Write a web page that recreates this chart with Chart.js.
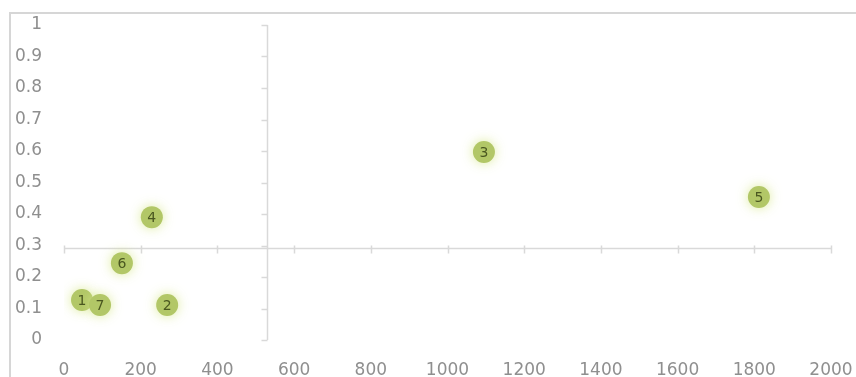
<!DOCTYPE html>
<html>
<head>
<meta charset="utf-8">
<script src="https://cdn.jsdelivr.net/npm/chart.js@4/dist/chart.umd.min.js"></script>
<style>
  html, body { margin: 0; padding: 0; background: #fff; }
  #wrap { width: 856px; height: 377px; }
</style>
</head>
<body>
<div id="wrap"><canvas id="chart"></canvas></div>
<script>
// point labels and values
const pointLabels = ['1', '2', '3', '4', '5', '6', '7'];
const xValues = [47, 269, 1095, 229, 1812, 151, 94];
const yValues = [0.127, 0.111, 0.597, 0.39, 0.454, 0.244, 0.111];
const xTicks = [0, 200, 400, 600, 800, 1000, 1200, 1400, 1600, 1800, 2000];
const yTicks = [0, 0.1, 0.2, 0.3, 0.4, 0.5, 0.6, 0.7, 0.8, 0.9, 1];

// the quadrant axes cross at the averages
const mean = arr => arr.reduce((a, b) => a + b, 0) / arr.length;
const xCross = mean(xValues);
const yCross = mean(yValues);

const FONT = 'DejaVu Sans';
const AXIS_GREY = '#d9d9d9';

const quadrantPlugin = {
  id: 'quadrant',
  beforeDraw(chart) {
    const ctx = chart.ctx;
    ctx.save();
    ctx.strokeStyle = '#d6d6d6';
    ctx.lineWidth = 2;
    ctx.beginPath();
    ctx.moveTo(10, chart.height);
    ctx.lineTo(10, 13);
    ctx.lineTo(chart.width, 13);
    ctx.stroke();
    ctx.restore();
  },
  beforeDatasetsDraw(chart) {
    const { ctx, scales: { x, y } } = chart;
    const py = Math.round(y.getPixelForValue(yCross)) + 0.5;
    const px = Math.round(x.getPixelForValue(xCross)) + 0.5;
    ctx.save();
    ctx.strokeStyle = AXIS_GREY;
    ctx.lineWidth = 1.5;
    ctx.beginPath();
    // horizontal line with crossing tick marks
    ctx.moveTo(x.getPixelForValue(xTicks[0]), py);
    ctx.lineTo(x.getPixelForValue(xTicks[xTicks.length - 1]), py);
    xTicks.forEach(v => {
      const tx = Math.round(x.getPixelForValue(v)) + 0.5;
      ctx.moveTo(tx, py - 3);
      ctx.lineTo(tx, py + 5);
    });
    // vertical line with outside tick marks
    ctx.moveTo(px, y.getPixelForValue(yTicks[0]));
    ctx.lineTo(px, y.getPixelForValue(yTicks[yTicks.length - 1]));
    yTicks.forEach(v => {
      const ty = Math.round(y.getPixelForValue(v)) + 0.5;
      ctx.moveTo(px - 6, ty);
      ctx.lineTo(px, ty);
    });
    ctx.stroke();
    ctx.restore();
  },
  beforeDatasetDraw(chart) {
    const ctx = chart.ctx;
    ctx.save();
    ctx.shadowColor = 'rgba(215, 232, 140, 0.85)';
    ctx.shadowBlur = 12;
  },
  afterDatasetDraw(chart) {
    chart.ctx.restore();
  },
  afterDatasetsDraw(chart) {
    const ctx = chart.ctx;
    const meta = chart.getDatasetMeta(0);
    ctx.save();
    ctx.font = '14px "' + FONT + '"';
    ctx.fillStyle = '#4a5720';
    ctx.textAlign = 'center';
    ctx.textBaseline = 'middle';
    meta.data.forEach((pt, i) => {
      ctx.fillText(pointLabels[i], pt.x, pt.y + 1);
    });
    ctx.restore();
  }
};

new Chart(document.getElementById('chart'), {
  type: 'scatter',
  data: {
    datasets: [{
      data: xValues.map((v, i) => ({ x: v, y: yValues[i] })),
      pointRadius: 11,
      pointHoverRadius: 11,
      pointBackgroundColor: '#b2c767',
      pointBorderWidth: 0
    }]
  },
  options: {
    responsive: true,
    maintainAspectRatio: false,
    animation: false,
    events: [],
    layout: { padding: { left: 10, right: 25, top: 25, bottom: 0 } },
    plugins: {
      legend: { display: false },
      tooltip: { enabled: false }
    },
    scales: {
      x: {
        type: 'linear',
        min: 0,
        max: 2000,
        afterBuildTicks: s => { s.ticks = xTicks.map(v => ({ value: v })); },
        afterFit: s => { s.height = 37; s.paddingLeft = 0; s.paddingRight = 0; },
        grid: { display: false },
        border: { display: false },
        ticks: {
          color: '#8f8f8f',
          font: { family: FONT, size: 17 },
          padding: 12,
          maxRotation: 0,
          autoSkip: false,
          callback: v => String(v)
        }
      },
      y: {
        type: 'linear',
        min: 0,
        max: 1,
        afterBuildTicks: s => { s.ticks = yTicks.map(v => ({ value: v })); },
        afterFit: s => { s.width = 54; s.paddingTop = 0; s.paddingBottom = 0; },
        grid: { display: false },
        border: { display: false },
        ticks: {
          color: '#8f8f8f',
          font: { family: FONT, size: 17 },
          padding: 14,
          autoSkip: false,
          callback: v => String(Math.round(v * 10) / 10)
        }
      }
    }
  },
  plugins: [quadrantPlugin]
});
</script>
</body>
</html>
